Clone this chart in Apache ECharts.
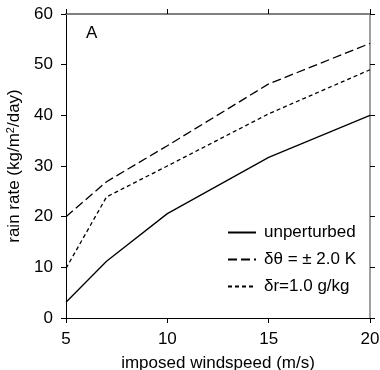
<!DOCTYPE html>
<html>
<head>
<meta charset="utf-8">
<script src="https://cdn.jsdelivr.net/npm/echarts@6/dist/echarts.min.js"></script>
<style>html,body{margin:0;padding:0;background:#fff}#c{width:380px;height:370px}</style>
</head>
<body>
<div id="c"></div>
<script>
var windspeed = [5, 7, 10, 15, 20];
var unperturbed = [3.1, 11.2, 20.6, 31.7, 40.0];
var dTheta = [20.0, 26.9, 34.0, 46.2, 54.2];
var dR = [9.8, 23.9, 30.0, 40.3, 49.0];
var seriesNames = ['unperturbed', 'δθ = ± 2.0 K', 'δr=1.0 g/kg'];
var xTicks = [5, 10, 15, 20];
var yTicks = [0, 10, 20, 30, 40, 50, 60];

function pairs(vals) { return windspeed.map(function (x, i) { return [x, vals[i]]; }); }

var font = 'Liberation Sans, Arial, Helvetica, sans-serif';
var FS = 17;
var chart = echarts.init(document.getElementById('c'));
chart.setOption({
  animation: false,
  backgroundColor: '#fff',
  textStyle: { fontFamily: font, color: '#000' },
  grid: { left: 66, right: 10, top: 14, bottom: 52, containLabel: false, outerBoundsMode: 'none' },
  legend: {
    orient: 'vertical', left: 222, top: 219, itemWidth: 28, itemHeight: 14, itemGap: 10,
    itemStyle: { opacity: 0 },
    textStyle: { fontFamily: font, fontSize: FS, color: '#000', padding: [0, 0, 0, 3] },
    data: seriesNames
  },
  graphic: [{ type: 'text', left: 86, top: 25, style: { text: 'A', font: FS + 'px ' + font, fill: '#000' } }],
  xAxis: [{
    type: 'value', min: 5, max: 20, interval: 5, position: 'bottom',
    name: 'imposed windspeed (m/s)', nameLocation: 'middle', nameGap: 37,
    nameTextStyle: { fontSize: FS, color: '#000', fontFamily: font },
    axisLine: { onZero: false, lineStyle: { color: '#000', width: 1 } },
    axisTick: { inside: false, length: 5, lineStyle: { color: '#000' } },
    axisLabel: { fontSize: FS, color: '#000', margin: 13, fontFamily: font, formatter: function (v) { return xTicks.indexOf(v) >= 0 ? String(v) : ''; } },
    splitLine: { show: false }
  }, {
    type: 'value', min: 5, max: 20, interval: 5, position: 'top',
    axisLine: { onZero: false, lineStyle: { color: '#808080', width: 2 } },
    axisTick: { inside: false, length: 5, lineStyle: { color: '#000' } },
    axisLabel: { show: false }, splitLine: { show: false }
  }],
  yAxis: [{
    type: 'value', min: 0, max: 60, interval: 10, position: 'left',
    name: 'rain rate (kg/m{sup|2}/day)', nameLocation: 'middle', nameGap: 37, nameRotate: 90,
    nameTextStyle: { fontSize: FS, color: '#000', fontFamily: font,
      rich: { sup: { fontSize: 11, verticalAlign: 'top', padding: [0, 0, 8, 0], fontFamily: font, color: '#000' } } },
    axisLine: { onZero: false, lineStyle: { color: '#000', width: 1 } },
    axisTick: { inside: false, length: 5, lineStyle: { color: '#000' } },
    axisLabel: { fontSize: FS, color: '#000', margin: 13, fontFamily: font, formatter: function (v) { return yTicks.indexOf(v) >= 0 ? String(v) : ''; } },
    splitLine: { show: false }
  }, {
    type: 'value', min: 0, max: 60, interval: 10, position: 'right',
    axisLine: { onZero: false, lineStyle: { color: '#808080', width: 1.5 } },
    axisTick: { inside: false, length: 5, lineStyle: { color: '#000' } },
    axisLabel: { show: false }, splitLine: { show: false }
  }],
  series: [
    { name: seriesNames[0], type: 'line', data: pairs(unperturbed), symbol: 'none', color: '#000',
      lineStyle: { color: '#000', width: 1.3, type: 'solid' } },
    { name: seriesNames[1], type: 'line', data: pairs(dTheta), symbol: 'none', color: '#000',
      lineStyle: { color: '#000', width: 1.3, type: [9, 4] } },
    { name: seriesNames[2], type: 'line', data: pairs(dR), symbol: 'none', color: '#000',
      lineStyle: { color: '#000', width: 1.3, type: [4, 3] } }
  ]
});
</script>
</body>
</html>
